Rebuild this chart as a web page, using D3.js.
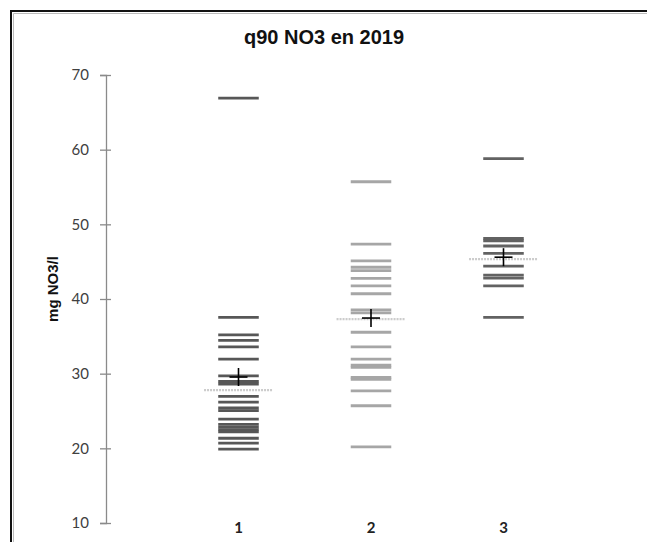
<!DOCTYPE html>
<html>
<head>
<meta charset="utf-8">
<script src="https://cdn.jsdelivr.net/npm/d3@7"></script>
<style>
  html, body { margin: 0; padding: 0; background: #fff; }
  svg { display: block; }
</style>
</head>
<body>
<svg id="chart" width="647" height="542"></svg>
<script>
// Groups shown along the horizontal axis
const categories = [1, 2, 3];

// q90 nitrate values (mg NO3/l) per station, one array per group
const group1 = [66.9, 37.55, 35.2, 34.45, 33.6, 31.95, 29.7, 28.95, 28.6, 26.95, 26.2,
                25.4, 25.05, 23.9, 23.2, 22.85, 22.5, 22.2, 21.35, 20.7, 19.9];
const group2 = [55.7, 47.35, 45.1, 44.25, 43.8, 42.75, 41.75, 40.7, 38.55, 38.15,
                35.55, 33.6, 31.95, 31.15, 30.85, 29.5, 29.25, 27.7, 25.7, 20.2];
const group3 = [58.8, 48.1, 47.8, 47.1, 46.1, 44.4, 43.2, 42.8, 41.75, 37.55];

// Summary markers per group: mean (cross) and median (dotted bar)
const means = [29.55, 37.45, 45.6];
const medians = [27.8, 37.3, 45.35];

// Vertical axis ticks
const yTicks = [10, 20, 30, 40, 50, 60, 70];

const groups = [group1, group2, group3];
const groupColors = ["#575757", "#a6a6a6", "#626262"];

const svg = d3.select("#chart");

// Frame around the chart
svg.append("path")
  .attr("d", "M11,545 V11 H650")
  .attr("fill", "none")
  .attr("stroke", "#111")
  .attr("stroke-width", 2);
svg.append("path")
  .attr("d", "M13.5,545 V13.5 H650")
  .attr("fill", "none")
  .attr("stroke", "#bbb")
  .attr("stroke-width", 1);

const x = d3.scaleLinear().domain([0, 4]).range([106, 636]);
const y = d3.scaleLinear().domain([10, 70]).range([523, 75]);

// Title
svg.append("text")
  .attr("x", 324).attr("y", 44)
  .attr("text-anchor", "middle")
  .attr("font-family", "Liberation Sans, Arial, sans-serif")
  .attr("font-weight", "bold")
  .attr("font-size", 20)
  .attr("fill", "#111")
  .text("q90 NO3 en 2019");

// Y axis
const yAxis = svg.append("g")
  .attr("transform", `translate(${x(0)},0)`)
  .call(d3.axisLeft(y).tickValues(yTicks).tickSize(6).tickPadding(11).tickFormat(d3.format("d")));
yAxis.select(".domain").attr("stroke", "#8a8a8a").attr("stroke-width", 1.3);
yAxis.selectAll(".tick line").attr("x1", 5).attr("x2", -6).attr("stroke", "#8a8a8a").attr("stroke-width", 1.3);
yAxis.selectAll(".tick text")
  .attr("font-family", "Lato, Open Sans, sans-serif")
  .attr("font-size", 15)
  .attr("fill", "#404040");

// Y axis title
svg.append("text")
  .attr("transform", `translate(58,${289}) rotate(-90)`)
  .attr("text-anchor", "middle")
  .attr("font-family", "Liberation Sans, Arial, sans-serif")
  .attr("font-weight", "bold")
  .attr("font-size", 15)
  .attr("fill", "#111")
  .text("mg NO3/l");

// Category labels
svg.append("g").selectAll("text")
  .data(categories)
  .join("text")
  .attr("x", d => x(d))
  .attr("y", 533)
  .attr("text-anchor", "middle")
  .attr("font-family", "Lato, Open Sans, sans-serif")
  .attr("font-weight", "bold")
  .attr("font-size", 15)
  .attr("fill", "#222")
  .text(d => d);

// Median bars (drawn under the value dashes)
svg.append("g").selectAll("line")
  .data(categories)
  .join("line")
  .attr("x1", (d) => x(d - 0.26))
  .attr("x2", (d) => x(d + 0.26))
  .attr("y1", (d, i) => y(medians[i]))
  .attr("y2", (d, i) => y(medians[i]))
  .attr("stroke", "#cccccc")
  .attr("stroke-width", 2.2)
  .attr("stroke-dasharray", "2 1");

// Value dashes
categories.forEach((c, i) => {
  svg.append("g").selectAll("line")
    .data(groups[i])
    .join("line")
    .attr("x1", x(c - 0.153))
    .attr("x2", x(c + 0.153))
    .attr("y1", d => y(d))
    .attr("y2", d => y(d))
    .attr("stroke", groupColors[i])
    .attr("stroke-width", 2.8);
});

// Mean crosses
const cross = svg.append("g").selectAll("g")
  .data(categories)
  .join("g")
  .attr("transform", (d, i) => `translate(${x(d)},${y(means[i])})`);
cross.append("line").attr("x1", -9).attr("x2", 9).attr("y1", 0).attr("y2", 0)
  .attr("stroke", "#000").attr("stroke-width", 1.6);
cross.append("line").attr("x1", 0).attr("x2", 0).attr("y1", -9).attr("y2", 9)
  .attr("stroke", "#000").attr("stroke-width", 1.6);
</script>
</body>
</html>
